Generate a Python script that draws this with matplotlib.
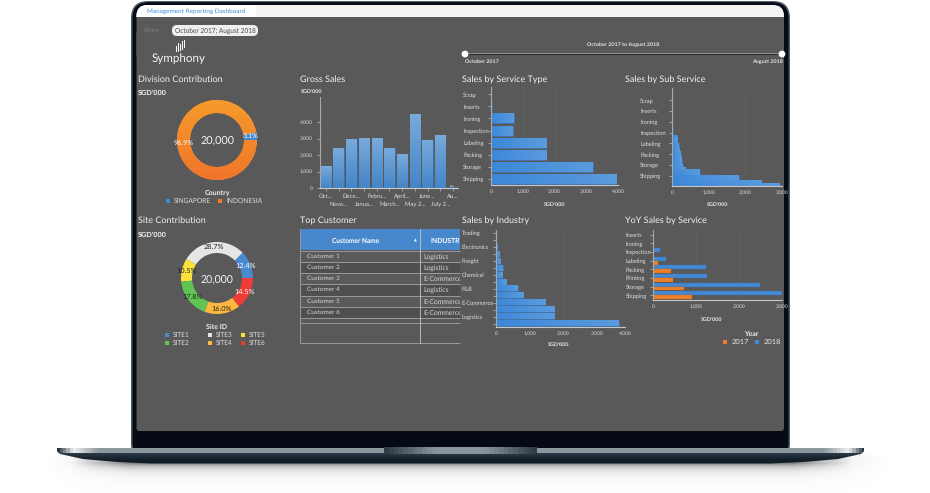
import numpy as np
import matplotlib
matplotlib.use("Agg")
import matplotlib.pyplot as plt
from matplotlib.patches import FancyBboxPatch, Rectangle, Circle
from matplotlib.colors import LinearSegmentedColormap

W, H = 930, 493
plt.rcParams['font.family'] = ['Lato', 'DejaVu Sans']
plt.rcParams['text.hinting'] = 'no_hinting'

# data
division_labels = ['SINGAPORE', 'INDONESIA']
division_share = [3.1, 96.9]
site_labels = ['SITE1', 'SITE3', 'SITE5', 'SITE2', 'SITE4', 'SITE6']
site_share = [12.4, 28.7, 10.5, 17.8, 16.0, 14.5]
months = ['Oct...', 'Nove...', 'Dece...', 'Janua...', 'Febru...', 'March...',
          'April...', 'May 2...', 'June...', 'July 2...', 'Au...']
gross_sales = [1310, 2400, 2930, 3010, 3010, 2420, 2060, 4440, 2910, 3210, 40]
service_types = ['Shipping', 'Storage', 'Packing', 'Labeling', 'Inspection', 'Ironing', 'Inserts', 'Scrap']
service_sales = [3950, 3200, 1740, 1740, 680, 710, 30, 0]
sub_names = ['Shipping', 'Storage', 'Packing', 'Labeling', 'Inspection', 'Ironing', 'Inserts', 'Scrap']
sub_sales = [2932, 2440, 1821, 1821, 760, 760, 360, 290, 265, 260, 250, 240, 225, 200, 190, 180, 146, 140,
             130, 25, 20, 15, 12, 10, 8, 7, 6, 5, 4, 3, 3, 2, 2, 1, 1, 1]
industry_names = ['', 'Logistics', '', 'E-Commerce', '', 'F&B', '', 'Chemical', '', 'Freight',
                  '', 'Electronics', '', 'Trading']
industry_sales = [3640, 1720, 1720, 1460, 810, 650, 310, 190, 200, 130, 100, 30, 0, 0]
yoy_names = ['Shipping', 'Storage', 'Printing', 'Packing', 'Labeling', 'Inspection', 'Ironing', 'Inserts']
yoy_2017 = [911, 716, 467, 412, 117, 0, 0, 0]
yoy_2018 = [3000, 2478, 1262, 1223, 296, 171, 15, 0]
customers = ['Customer 1', 'Customer 2', 'Customer 3', 'Customer 4', 'Customer 5', 'Customer 6']
industries = ['Logistics', 'Logistics', 'E-Commerce', 'Logistics', 'E-Commerce', 'E-Commerce']

SCREEN = '#595959'
BLUE = '#4388d3'
GRID = '#636363'
site_colors = ['#4a8bd0', '#e6e6e6', '#fde13a', '#5fc454', '#fdb93f', '#ee3b36']
site_legend_colors = ['#4a8bd0', '#e6e6e6', '#fde13a', '#5fc454', '#fdb93f', '#ee3b36']

fig = plt.figure(figsize=(W / 100, H / 100), dpi=100, facecolor='white')


def px_axes(x0, y0, x1, y1):
    ax = fig.add_axes([x0 / W, 1 - y1 / H, (x1 - x0) / W, (y1 - y0) / H])
    ax.patch.set_alpha(0)
    return ax


def gradient_bars(ax, bars, c0, c1, vertical=False):
    """paints each bar with a gradient"""
    cmap = LinearSegmentedColormap.from_list('g', [c0, c1])
    for b in bars:
        if b.get_width() == 0 or b.get_height() == 0:
            continue
        g = np.linspace(0, 1, 32).reshape(-1, 1) if vertical else np.linspace(0, 1, 32).reshape(1, -1)
        x, y, w, h = b.get_x(), b.get_y(), b.get_width(), b.get_height()
        ax.imshow(g, extent=(x, x + w, y, y + h), origin='lower', aspect='auto', cmap=cmap, zorder=2.5)


def style_axes(ax):
    for s in ['top', 'right']:
        ax.spines[s].set_visible(False)
    ax.spines['left'].set_color('#a8a8a8')
    ax.spines['bottom'].set_color('#c8c8c8')
    ax.spines['left'].set_linewidth(0.8)
    ax.spines['bottom'].set_linewidth(0.8)
    ax.tick_params(colors='#bdbdbd', labelsize=3.6, length=2, width=0.5, labelcolor='#dedede')


def hbar_chart(rect, names, values, xmax, ticks, slots, height=0.82, pad=24, pos=None):
    ax = px_axes(*rect)
    y = np.arange(len(values))
    bars = ax.barh(y, values, height=height, color=BLUE, edgecolor='#3a74b4', linewidth=0.4, zorder=2)
    gradient_bars(ax, bars, '#3d88d8', '#5a9ade')
    ax.set_xlim(0, xmax)
    ax.set_ylim(-0.5, slots)
    ax.set_yticks(y if pos is None else pos)
    ax.set_yticklabels(names, ha='left')
    ax.set_xticks(ticks)
    ax.set_xticklabels(['0'] + [f'{t:,}' for t in ticks[1:]])
    ax.get_xticklabels()[0].set_fontsize(5.5)
    style_axes(ax)
    ax.tick_params(axis='y', pad=pad, labelsize=4.1)
    ax.tick_params(axis='x', pad=3, length=0)
    ax.grid(axis='x', color=GRID, linewidth=0.4, zorder=1)
    ax.set_axisbelow(True)
    return ax


# page: laptop frame, pixel coordinates
bg = fig.add_axes([0, 0, 1, 1])
bg.set_xlim(0, W)
bg.set_ylim(H, 0)
bg.axis('off')

# soft shadow under the base
sx_grid, sy_grid = np.meshgrid(np.arange(40, 890), np.arange(455, 493))
edge = np.clip((sx_grid - 70) / 60, 0, 1) * np.clip((851 - sx_grid) / 60, 0, 1)
below = np.clip(sy_grid - 463, 0, None)
shadow = np.zeros(sx_grid.shape + (4,))
shadow[..., 3] = 0.42 * edge * np.exp(-below / 4.5) + 0.05 * np.exp(-below / 12) * np.clip((sx_grid - 40) / 50, 0, 1) * np.clip((890 - sx_grid) / 50, 0, 1)
bg.imshow(shadow, extent=(40, 890, 493, 455), origin='upper', aspect='auto', zorder=0.5)
bg.set_xlim(0, W)
bg.set_ylim(H, 0)

bg.add_patch(FancyBboxPatch((131, 1), 659, 460, boxstyle='round,pad=0,rounding_size=17',
                            fc='#4d5f68', ec='none'))
bg.add_patch(FancyBboxPatch((132.5, 2.2), 656, 457, boxstyle='round,pad=0,rounding_size=16',
                            fc='#050a14', ec='none'))
screen_top = FancyBboxPatch((136.5, 5), 647.5, 60, boxstyle='round,pad=0,rounding_size=11', fc=SCREEN, ec='none')
bg.add_patch(screen_top)
bg.add_patch(FancyBboxPatch((136.5, 30), 647.5, 401, boxstyle='round,pad=0,rounding_size=3',
                            fc=SCREEN, ec='none'))

# base with vertical gradient
cm_base = LinearSegmentedColormap.from_list('b', ['#46565f', '#2c3a46', '#15222d', '#0f1b25'])
im = bg.imshow(np.linspace(0, 1, 32).reshape(-1, 1), extent=(57, 864, 464, 448), origin='upper', aspect='auto',
               cmap=cm_base, zorder=1.1)
clip_x = np.r_[57, 57, 60, 83, 117, 150, 771, 804, 838, 861, 864, 864]
clip_y = np.r_[448, 451, 454, 459, 462, 463.5, 463.5, 462, 459, 454, 451, 448]
poly = plt.Polygon(np.c_[clip_x, clip_y], closed=True, transform=bg.transData, fc='none', ec='none')
bg.add_patch(poly)
im.set_clip_path(poly)
cm_strip = LinearSegmentedColormap.from_list('s', [(0, '#2a343c'), (0.018, '#eef1f2'), (0.05, '#8d979e'), (0.95, '#8d979e'),
                                                   (0.982, '#eef1f2'), (1, '#2a343c')])
strip = bg.imshow(np.linspace(0, 1, 256).reshape(1, -1), extent=(57, 864, 453, 448), aspect='auto', cmap=cm_strip, zorder=1.2)
strip.set_clip_path(poly)
cm_notch = LinearSegmentedColormap.from_list('n', ['#2f3b45', '#8a949b', '#8a949b', '#2f3b45'])
bg.imshow(np.linspace(0, 1, 32).reshape(1, -1), extent=(384, 537, 454.5, 448), aspect='auto', cmap=cm_notch, zorder=1.3)
bg.set_xlim(0, W)
bg.set_ylim(H, 0)

# top strip and tab
top = bg.add_patch(Rectangle((136, 5), 649, 12, fc='#f4f4f4', ec='none', zorder=2))
top.set_clip_path(screen_top)
tab = bg.add_patch(Rectangle((136, 5), 120, 12, fc='white', ec='none', zorder=2))
tab.set_clip_path(screen_top)
bg.text(147, 11.3, 'Management Reporting Dashboard', color='#3b8fd6', fontsize=4.6, va='center', zorder=3)

bg.text(144, 30.5, 'Filters', color='#7e7e7e', fontsize=4.6, va='center', style='italic', zorder=3)
bg.add_patch(FancyBboxPatch((172, 25), 86, 11, boxstyle='round,pad=0,rounding_size=5', fc='#efefef', ec='none', zorder=2))
bg.text(215, 30.5, 'October 2017; August 2018', color='#4a4a4a', fontsize=4.7, ha='center', va='center', zorder=3)

# logo
bg.text(179, 58.5, 'Symphony', color='#f4f4f4', fontsize=8.4, ha='center', va='center', zorder=3)
for lx, ly0, ly1 in [(175.5, 46, 51), (177.5, 43, 51), (180, 44, 50), (182, 41, 49), (184, 40, 47)]:
    bg.plot([lx, lx], [ly0, ly1], color='white', linewidth=0.7, zorder=3)

# slider
bg.plot([465, 782], [54, 54], color='#2c2c2c', linewidth=1.6, zorder=2)
bg.plot([465, 782], [53.3, 53.3], color='#bdbdbd', linewidth=0.5, zorder=2)
for sx in [465, 782]:
    bg.add_patch(Circle((sx, 54), 3.4, fc='white', ec='none', zorder=3))
bg.text(623, 45, 'October 2017 to August 2018', color='#e8e8e8', fontsize=3.9, ha='center', va='center', fontweight='bold', zorder=3)
bg.text(465, 62, 'October 2017', color='#e8e8e8', fontsize=3.9, va='center', fontweight='bold', zorder=3)
bg.text(783, 62, 'August 2018', color='#e8e8e8', fontsize=3.9, ha='right', va='center', fontweight='bold', zorder=3)

# titles
for tx, ty, t in [(138, 79.5, 'Division Contribution'), (300, 79.5, 'Gross Sales'), (462, 79.5, 'Sales by Service Type'),
                  (625, 79.5, 'Sales by Sub Service'), (138, 220.5, 'Site Contribution'), (300, 220.5, 'Top Customer'),
                  (462, 220.5, 'Sales by Industry'), (625, 220.5, 'YoY Sales by Service')]:
    bg.text(tx, ty, t, color='#f2f2f2', fontsize=6.45, va='center', zorder=3)
bg.text(138, 93, "SGD'000", color='#f4f4f4', fontsize=5.2, fontweight='bold', va='center', zorder=3)
bg.text(138, 234.5, "SGD'000", color='#f4f4f4', fontsize=5.2, fontweight='bold', va='center', zorder=3)
bg.text(301, 92, "SGD'000", color='#f4f4f4', fontsize=3.9, fontweight='bold', va='center', zorder=3)
for ax_x, ax_y in [(555, 204.5), (718, 204.5), (559, 345), (712, 319.5)]:
    bg.text(ax_x, ax_y, "SGD'000", color='#f0f0f0', fontsize=3.9, fontweight='bold', ha='center', va='center', zorder=3)

# division donut
ax = px_axes(172, 95, 262, 185)
wedges, _ = ax.pie(division_share, colors=[BLUE, '#f08a2a'], startangle=0, radius=1,
                   wedgeprops=dict(width=0.325, edgecolor='none'))
cm_orange = LinearSegmentedColormap.from_list('o', ['#f0752a', '#f59b2a'])
gi = ax.imshow(np.linspace(0, 1, 64).reshape(-1, 1), extent=(-1, 1, -1, 1), origin='lower', aspect='auto', cmap=cm_orange, zorder=2)
gi.set_clip_path(wedges[1])
ax.set_xlim(-1.125, 1.125)
ax.set_ylim(-1.125, 1.125)
ax.text(0, -0.03, '20,000', color='#f2f2f2', fontsize=7.8, ha='center', va='center', zorder=3)
ax.text(0.83, 0.1, '3.1%', color='white', fontsize=5.2, ha='center', va='center', zorder=3)
ax.text(-0.83, -0.08, '96.9%', color='white', fontsize=5.2, ha='center', va='center', zorder=3)

bg.text(217, 193, 'Country', color='#eeeeee', fontsize=5, fontweight='bold', ha='center', va='center', zorder=3)
for sx, name, c in [(166, division_labels[0], BLUE), (218, division_labels[1], '#ee7a2a')]:
    bg.add_patch(Rectangle((sx, 198.5), 4, 4, fc=c, ec='none', zorder=3))
    bg.text(sx + 8, 200.5, name, color='#dcdcdc', fontsize=4.8, va='center', zorder=3)

# gross sales
ax = px_axes(320, 97, 458, 188)
x = np.arange(len(gross_sales))
bars = ax.bar(x, gross_sales, width=0.82, color=BLUE, edgecolor='#3b6fa8', linewidth=0.5, zorder=2)
gradient_bars(ax, bars[:-1], '#4485c8', '#78aadb', vertical=True)
ax.set_xlim(-0.47, 10.4)
ax.set_ylim(0, 5520)
ax.set_yticks([0, 1000, 2000, 3000, 4000])
ax.set_yticklabels(['0', '1,000', '2,000', '3,000', '4,000'])
ax.set_xticks(x)
ax.set_xticklabels(months)
style_axes(ax)
ax.tick_params(axis='x', labelsize=4.2, pad=2)
ax.tick_params(axis='y', length=2, labelsize=3.7, pad=3)
for i, tick in enumerate(ax.xaxis.get_major_ticks()):
    tick.set_pad(2 if i % 2 == 0 else 8)
ax.grid(axis='y', color=GRID, linewidth=0.4, zorder=1)
bg.text(452, 185.5, '\u2190', color='#e0e0e0', fontsize=4, ha='center', va='center', family='DejaVu Sans', zorder=3)

# horizontal charts
hbar_chart((491, 87, 618, 185), service_types, service_sales, 4000, [0, 1000, 2000, 3000, 4000], 7.6, pad=18)
hbar_chart((672, 88, 782, 186), sub_names, sub_sales, 3000, [0, 1000, 2000, 3000], 36.2, height=0.85, pad=21,
           pos=np.linspace(3.3, 31.6, 8))
hbar_chart((496, 230, 625, 327), industry_names, industry_sales, 3820, [0, 1000, 2000, 3000], 13.4, height=0.82, pad=22.5)
bg.text(625, 333.5, '4,000', color='#dedede', fontsize=3.6, ha='center', va='center', zorder=3)

# yoy
ax = px_axes(653, 230, 782, 300)
y = np.arange(len(yoy_names))
b18 = ax.barh(y + 0.23, yoy_2018, height=0.44, color=BLUE, edgecolor='#3a74b4', linewidth=0.3, zorder=2)
b17 = ax.barh(y - 0.23, yoy_2017, height=0.44, color='#f08028', edgecolor='#c8691f', linewidth=0.3, zorder=2)
ax.set_xlim(0, 3000)
ax.set_ylim(-0.55, 7.55)
ax.set_yticks(y)
ax.set_yticklabels(yoy_names, ha='left')
ax.set_xticks([0, 1000, 2000, 3000])
ax.set_xticklabels(['0', '1,000', '2,000', '3,000'])
ax.get_xticklabels()[0].set_fontsize(5.5)
style_axes(ax)
ax.tick_params(axis='y', pad=17.5, labelsize=4.1)
ax.tick_params(axis='x', pad=3, length=0)
ax.grid(axis='x', color=GRID, linewidth=0.4, zorder=1)

bg.text(751, 334, 'Year', color='#eeeeee', fontsize=5, fontweight='bold', ha='center', va='center', zorder=3)
for sx, name, c in [(723, '2017', '#ee7a2a'), (755, '2018', BLUE)]:
    bg.add_patch(Rectangle((sx, 340), 4, 4, fc=c, ec='none', zorder=3))
    bg.text(sx + 9, 342, name, color='#e6e6e6', fontsize=5.4, va='center', zorder=3)

# site donut
ax = px_axes(177, 238, 257, 318)
ax.pie(site_share, colors=site_colors, startangle=0, radius=0.9,
       wedgeprops=dict(width=0.275, edgecolor='none'), normalize=True)
ax.set_xlim(-1, 1)
ax.set_ylim(-1, 1)
ax.text(0, -0.05, '20,000', color='#f2f2f2', fontsize=7.6, ha='center', va='center')
angle = 0
for share, c in zip(site_share, site_colors):
    mid = np.deg2rad(angle + share * 3.6 / 2)
    angle += share * 3.6
    tc = 'white' if c in (site_colors[0], site_colors[5]) else '#222222'
    ax.text(0.78 * np.cos(mid), 0.78 * np.sin(mid), f'{share:.1f}%', color=tc, fontsize=5.3, ha='center', va='center')

bg.text(217, 326.5, 'Site ID', color='#eeeeee', fontsize=5, fontweight='bold', ha='center', va='center', zorder=3)
for i, name in enumerate(site_labels):
    col, row = i % 3, i // 3
    sx = [164.5, 208, 241][col]
    sy = 334.5 + row * 8
    bg.add_patch(Rectangle((sx, sy - 2), 4, 4, fc=site_legend_colors[i], ec='none', zorder=3))
    bg.text(sx + 8, sy, name, color='#dcdcdc', fontsize=4.7, va='center', zorder=3)

# table
clip = Rectangle((300, 229), 160, 115, transform=bg.transData, fc='none', ec='none')
bg.add_patch(clip)
bg.add_patch(Rectangle((300, 229), 160, 21, fc='#4788cc', ec='none', zorder=2))
bg.text(356, 240.5, 'Customer Name', color='white', fontsize=4.7, fontweight='bold', ha='center', va='center', zorder=3)
bg.text(415, 240.5, '\u25b2', color='white', fontsize=2.6, ha='center', va='center', family='DejaVu Sans', zorder=3)
t = bg.text(430, 240.5, 'INDUSTRY', color='white', fontsize=4.9, fontweight='bold', va='center', zorder=3)
t.set_clip_on(True)
t.set_clip_path(clip)
row_y = [250.5, 261.5, 273, 284, 295.5, 307, 318, 322.5, 343]
for i in range(6):
    bg.add_patch(Rectangle((300, row_y[i]), 160, row_y[i + 1] - row_y[i], fc='#4f4f4f' if i % 2 else '#5a5a5a', ec='none', zorder=2))
    cy = (row_y[i] + row_y[i + 1]) / 2
    bg.text(307, cy, customers[i], color='#d6d6d6', fontsize=4.6, va='center', zorder=3)
    t = bg.text(423, cy + 0.5, industries[i], color='#d6d6d6', fontsize=4.9, va='center', zorder=3)
    t.set_clip_on(True)
    t.set_clip_path(clip)
for ry in row_y:
    bg.plot([300, 460], [ry, ry], color='#9a9a9a', linewidth=0.7, zorder=3, solid_capstyle='butt')
bg.plot([300, 300], [229, 343], color='#9a9a9a', linewidth=0.7, zorder=3)
bg.plot([419.5, 419.5], [229, 343], color='#c4c4c4', linewidth=0.6, zorder=3)
bg.set_xlim(0, W)
bg.set_ylim(H, 0)

fig.savefig('out.png', dpi=100, facecolor='white')
